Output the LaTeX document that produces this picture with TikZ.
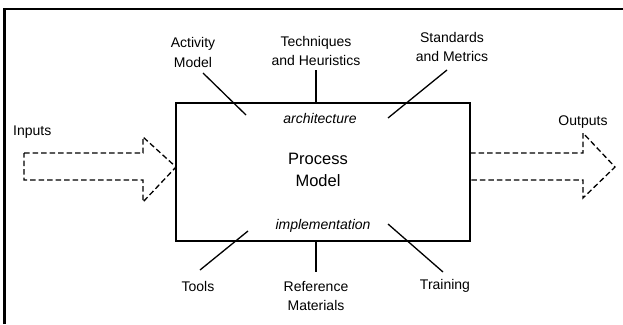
\documentclass[tikz,border=0pt]{standalone}
\usepackage{fontspec}
\setmainfont{Liberation Sans}
\begin{document}
\begin{tikzpicture}[x=1pt,y=-1pt,
  lbl/.style={inner sep=0pt,align=center,font=\fontsize{14}{19.5}\selectfont},
  conn/.style={line width=1.3pt},
  darrow/.style={line width=1.3pt,dash pattern=on 5.5pt off 3pt},
  frame/.style={line width=2.6pt}]
\useasboundingbox (0,0) rectangle (623,324);
% outer frame (top and left edges)
\coordinate (fa) at (4.5,324);
\coordinate (fb) at (4.5,8.8);
\coordinate (fc) at (623,8.8);
\draw[frame] (fa) -- (fb) -- (fc);
% process box
\node[draw,line width=1.8pt,minimum width=294pt,minimum height=138pt,inner sep=0pt] (box) at (323,172) {};
\node[lbl,font=\fontsize{16.5}{22}\selectfont] (pm) at (318,170) {Process\\Model};
\node[lbl,font=\fontsize{14}{19.5}\selectfont\itshape] (arch) at (320,118) {architecture};
\node[lbl,font=\fontsize{14}{19.5}\selectfont\itshape] (impl) at (323,226) {implementation};
% top labels
\node[lbl] (act) at (193,52.5) {Activity\\Model};
\node[lbl] (tech) at (316,51) {Techniques\\and Heuristics};
\node[lbl] (std) at (452,47) {Standards\\and Metrics};
% bottom labels
\node[lbl] (tools) at (198,286) {Tools};
\node[lbl] (ref) at (316,296) {Reference\\Materials};
\node[lbl] (train) at (445,286) {Training};
% connector endpoints
\coordinate (a1) at (203,73); \coordinate (a2) at (246,115);
\coordinate (t1) at (316,70); \coordinate (t2) at (316,103);
\coordinate (s1) at (447,70); \coordinate (s2) at (388,118);
\coordinate (o1) at (248,231); \coordinate (o2) at (200,270);
\coordinate (r1) at (316,241); \coordinate (r2) at (316,272);
\coordinate (g1) at (388,224); \coordinate (g2) at (443,272);
\draw[conn] (a1) -- (a2);
\draw[conn] (t1) -- (t2);
\draw[conn] (s1) -- (s2);
\draw[conn] (o1) -- (o2);
\draw[conn] (r1) -- (r2);
\draw[conn] (g1) -- (g2);
% inputs arrow
\node[lbl,anchor=west] (in) at (13,132) {Inputs};
\coordinate (i1) at (24,153); \coordinate (i2) at (143,153); \coordinate (i3) at (143,137);
\coordinate (i4) at (176,167); \coordinate (i5) at (143,202); \coordinate (i6) at (143,180);
\coordinate (i7) at (24,180);
\draw[darrow] (i1) -- (i2) -- (i3) -- (i4) -- (i5) -- (i6) -- (i7) -- cycle;
% outputs arrow
\node[lbl] (out) at (583,122) {Outputs};
\coordinate (u1) at (470,153); \coordinate (u2) at (583,153); \coordinate (u3) at (583,133);
\coordinate (u4) at (615,167); \coordinate (u5) at (583,198); \coordinate (u6) at (583,180);
\coordinate (u7) at (470,180);
\draw[darrow] (u1) -- (u2) -- (u3) -- (u4) -- (u5) -- (u6) -- (u7);
\end{tikzpicture}
\end{document}
